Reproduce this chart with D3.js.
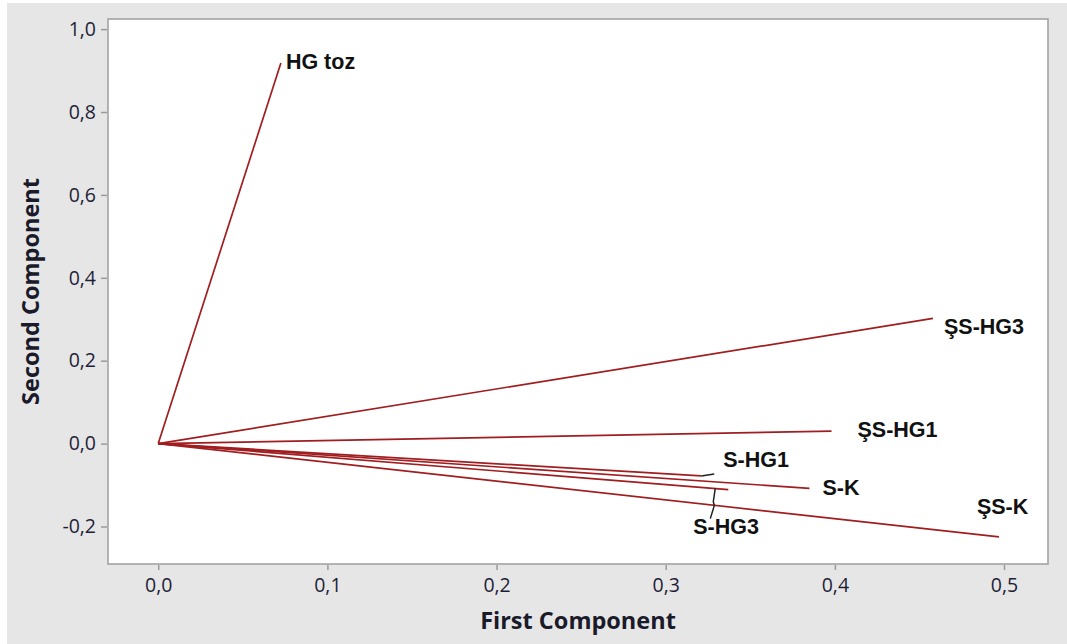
<!DOCTYPE html>
<html>
<head>
<meta charset="utf-8">
<script src="https://cdn.jsdelivr.net/npm/d3@7"></script>
<style>
  html, body { margin: 0; padding: 0; background: #ffffff; }
  svg { display: block; }
</style>
</head>
<body>
<svg id="chart" width="1067" height="644"></svg>
<script>
// ---- data ----
const variables = ["HG toz", "ŞS-HG3", "ŞS-HG1", "S-HG1", "S-K", "S-HG3", "ŞS-K"];
const firstComponent  = [0.0725, 0.458, 0.398, 0.321, 0.385, 0.337, 0.497];
const secondComponent = [0.918, 0.302, 0.030, -0.078, -0.108, -0.111, -0.225];
const xTickValues = [0.0, 0.1, 0.2, 0.3, 0.4, 0.5];
const yTickValues = [-0.2, 0.0, 0.2, 0.4, 0.6, 0.8, 1.0];
const xTitle = "First Component";
const yTitle = "Second Component";

// ---- layout (label offsets in px, relative to each vector end) ----
const labelOffsets = {
  "HG toz": [5, 6],
  "ŞS-HG3": [11, 16],
  "ŞS-HG1": [26, 6],
  "S-HG1": [22, -9],
  "S-K": [13, 7],
  "S-HG3": [-35, 44.5],
  "ŞS-K": [-22, -23]
};
const leaderPaths = {
  "S-HG1": [[0, 0], [13, -2]],
  "S-HG3": [[-13, -1.5], [-15, 12], [-14, 16], [-18, 29]]
};

const W = 1067, H = 644;
const plot = { left: 108, right: 1048, top: 19, bottom: 564 };

const svg = d3.select("#chart");

// outer background
svg.append("rect").attr("x", 0).attr("y", 0).attr("width", W).attr("height", H).attr("fill", "#ffffff");
svg.append("rect").attr("x", 7).attr("y", 3).attr("width", W - 7).attr("height", H - 3).attr("fill", "#e6e6e6");

const x = d3.scaleLinear().domain([-0.0297, 0.526]).range([plot.left, plot.right]);
const y = d3.scaleLinear().domain([-0.2905, 1.0244]).range([plot.bottom, plot.top]);

// plot area
svg.append("rect")
  .attr("x", plot.left).attr("y", plot.top)
  .attr("width", plot.right - plot.left).attr("height", plot.bottom - plot.top)
  .attr("fill", "#ffffff").attr("stroke", "#a3a3a3").attr("stroke-width", 1.6);

const fmt = d => d3.format(".1f")(d).replace(".", ",").replace("−", "-");

// axes
const xAxis = d3.axisBottom(x).tickValues(xTickValues).tickSize(5).tickPadding(8).tickFormat(fmt);
const yAxis = d3.axisLeft(y).tickValues(yTickValues).tickSize(6).tickPadding(5).tickFormat(fmt);

const gx = svg.append("g").attr("transform", `translate(0,${plot.bottom + 1})`).call(xAxis);
const gy = svg.append("g").attr("transform", `translate(${plot.left - 1},0)`).call(yAxis);

[gx, gy].forEach(g => {
  g.select(".domain").remove();
  g.selectAll(".tick line").attr("stroke", "#9a9a9a").attr("stroke-width", 1.5);
  g.selectAll(".tick text")
    .attr("fill", "#1e1e38")
    .style("font-family", "'Open Sans', 'DejaVu Sans', sans-serif")
    .style("font-size", "19.5px");
});

// axis titles
svg.append("text")
  .attr("x", (plot.left + plot.right) / 2).attr("y", 629)
  .attr("text-anchor", "middle")
  .attr("fill", "#1a1a2a")
  .style("font-family", "'Open Sans', sans-serif")
  .style("font-weight", "bold")
  .style("font-size", "23.5px")
  .text(xTitle);

svg.append("text")
  .attr("transform", `translate(39,${(plot.top + plot.bottom) / 2}) rotate(-90)`)
  .attr("text-anchor", "middle")
  .attr("fill", "#1a1a2a")
  .style("font-family", "'Open Sans', sans-serif")
  .style("font-weight", "bold")
  .style("font-size", "23.5px")
  .text(yTitle);

// loading vectors
const data = variables.map((v, i) => ({ name: v, pc1: firstComponent[i], pc2: secondComponent[i] }));

const g = svg.append("g");
g.selectAll("line.vec").data(data).enter().append("line")
  .attr("class", "vec")
  .attr("x1", x(0)).attr("y1", y(0))
  .attr("x2", d => x(d.pc1)).attr("y2", d => y(d.pc2))
  .attr("stroke", "#a01d20")
  .attr("stroke-width", 1.7);

// leader lines
const line = d3.line();
data.filter(d => leaderPaths[d.name]).forEach(d => {
  const ex = x(d.pc1), ey = y(d.pc2);
  g.append("path")
    .attr("d", line(leaderPaths[d.name].map(p => [ex + p[0], ey + p[1]])))
    .attr("fill", "none").attr("stroke", "#222").attr("stroke-width", 1.5);
});

// labels
g.selectAll("text.lbl").data(data).enter().append("text")
  .attr("class", "lbl")
  .attr("x", d => x(d.pc1) + labelOffsets[d.name][0])
  .attr("y", d => y(d.pc2) + labelOffsets[d.name][1])
  .attr("fill", "#111111")
  .style("font-family", "'Liberation Sans', Arial, sans-serif")
  .style("font-weight", "bold")
  .style("font-size", "21.5px")
  .text(d => d.name);
</script>
</body>
</html>
